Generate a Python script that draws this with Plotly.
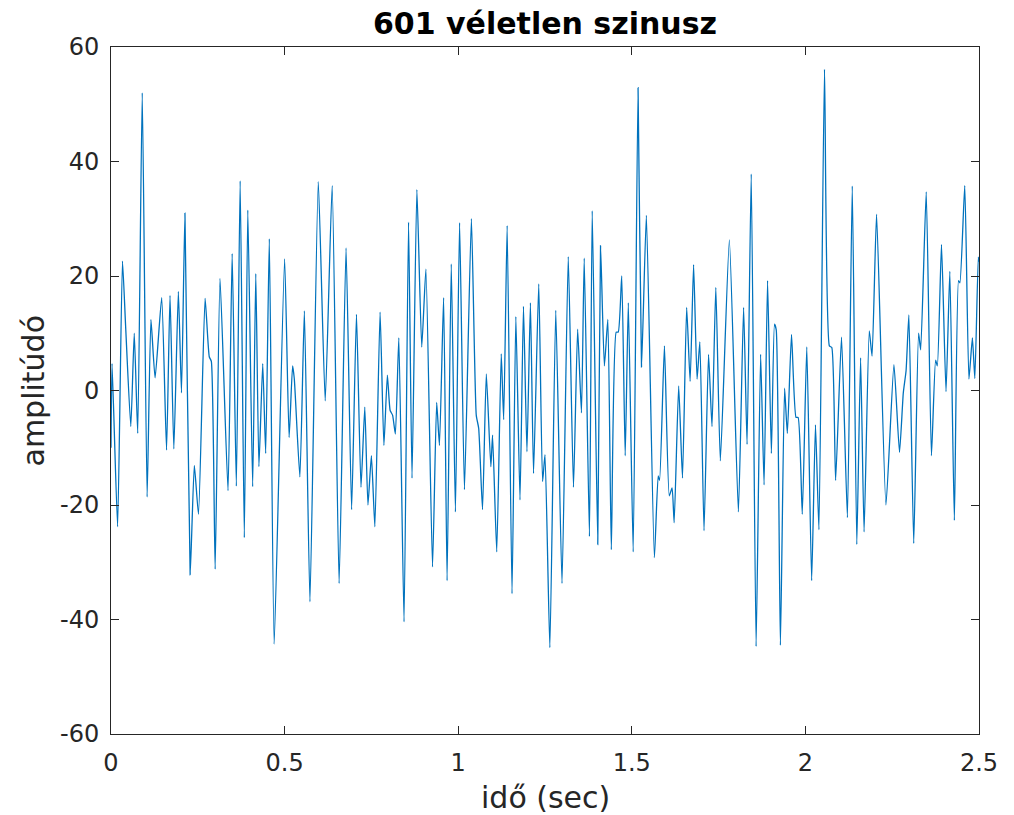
import plotly.graph_objects as go

# time (sec) and amplitude values (turning points of the signal)
t_sec = [
    0.000, 0.003, 0.019, 0.033, 0.042, 0.057, 0.067, 0.077, 0.090, 0.104,
    0.115, 0.127, 0.146, 0.160, 0.170, 0.181, 0.194, 0.203, 0.213, 0.228,
    0.240, 0.252, 0.271, 0.283, 0.289, 0.300, 0.314, 0.337, 0.349, 0.361,
    0.372, 0.384, 0.394, 0.408, 0.417, 0.426, 0.437, 0.4455, 0.456, 0.470,
    0.500, 0.513, 0.523, 0.528, 0.544, 0.557, 0.573, 0.597, 0.617, 0.637,
    0.657, 0.677, 0.693, 0.707, 0.720, 0.731, 0.740, 0.750, 0.760, 0.775,
    0.786, 0.796, 0.804, 0.811, 0.819, 0.829, 0.844, 0.857, 0.867, 0.881,
    0.895, 0.907, 0.926, 0.938, 0.946, 0.958, 0.968, 0.980, 0.992, 1.004,
    1.018, 1.038, 1.052, 1.059, 1.070, 1.081, 1.094, 1.099, 1.111, 1.124,
    1.131, 1.141, 1.155, 1.166, 1.178, 1.188, 1.198, 1.208, 1.217, 1.232,
    1.243, 1.250, 1.264, 1.281, 1.299, 1.317, 1.332, 1.344, 1.355, 1.363,
    1.378, 1.386, 1.402, 1.410, 1.421, 1.431, 1.441, 1.455, 1.461, 1.471,
    1.481, 1.490, 1.504, 1.518, 1.528, 1.542, 1.565, 1.576, 1.580, 1.594,
    1.608, 1.616, 1.622, 1.635, 1.646, 1.658, 1.668, 1.678, 1.688, 1.696,
    1.708, 1.721, 1.731, 1.742, 1.755, 1.781, 1.807, 1.822, 1.832, 1.844,
    1.858, 1.871, 1.881, 1.891, 1.902, 1.911, 1.916, 1.928, 1.940, 1.948,
    1.960, 1.973, 1.979, 1.991, 2.004, 2.018, 2.029, 2.039, 2.055, 2.069,
    2.076, 2.087, 2.104, 2.121, 2.135, 2.148, 2.159, 2.169, 2.184, 2.192,
    2.205, 2.232, 2.255, 2.271, 2.282, 2.290, 2.298, 2.312, 2.326, 2.332,
    2.348, 2.363, 2.375, 2.380, 2.392, 2.405, 2.416, 2.429, 2.441, 2.445,
    2.459, 2.471, 2.481, 2.488, 2.498, 2.500,
]
amplitude = [
    -10.0, 4.7, -23.8, 22.6, 11.4, -6.3, 10.0, -7.5, 52.0, -18.6,
    12.4, 2.2, 16.2, -10.4, 16.6, -10.2, 17.3, -0.4, 31.0, -32.2,
    -13.1, -21.6, 16.1, 5.9, 5.1, -31.2, 19.6, -17.5, 23.9, -16.7,
    36.6, -25.7, 31.5, -16.8, 20.4, -13.3, 4.7, -11.0, 26.5, -44.3,
    23.0, -8.2, 4.3, 2.0, -15.1, 13.9, -36.9, 36.5, -1.8, 35.8,
    -33.7, 24.9, -20.8, 13.3, -16.9, -2.9, -20.0, -11.4, -23.8, 13.7,
    -9.6, 2.7, -3.5, -4.3, -7.6, 9.2, -40.4, 29.4, -15.3, 35.1,
    7.6, 21.2, -30.8, -2.1, -9.6, 16.2, -33.2, 22.1, -21.2, 29.3,
    -17.3, 30.0, -4.3, -6.6, -20.8, 2.9, -13.3, -7.8, -28.2, 6.4,
    -5.1, 28.8, -35.5, 12.9, -19.1, 14.7, -10.7, 15.3, -14.5, 18.6,
    -15.9, -11.2, -44.9, 14.0, -33.7, 23.4, -16.9, 10.7, -3.9, 23.1,
    -25.5, 31.4, -26.9, 25.3, 4.3, 12.4, -27.8, 10.2, 10.2, 20.0,
    -11.4, 15.3, -28.2, 52.9, 4.1, 30.6, -29.2, -14.9, -15.7, 7.8,
    -18.4, -17.0, -23.1, 0.8, -15.3, 14.5, 1.6, 22.0, 2.0, 8.5,
    -24.5, 6.3, -6.3, 18.0, -12.3, 26.3, -21.2, 14.5, -9.4, 37.8,
    -44.7, 6.3, -16.5, 19.2, -11.0, 11.6, 10.6, -44.5, 0.4, -7.5,
    9.8, -4.7, -4.7, -21.6, 7.6, -33.2, -6.0, -24.3, 56.1, 7.8,
    7.5, -15.7, 9.3, -22.2, 35.7, -26.9, 5.7, -24.7, 10.4, 6.0,
    30.8, -20.0, 4.5, -10.8, -0.4, 3.5, 13.2, -26.7, 10.0, 7.1,
    34.7, -11.4, 5.3, 4.3, 25.5, -0.2, 20.8, -22.7, 19.2, 18.8,
    35.8, 2.0, 9.2, 2.1, 23.3, 22.5,
]

x_ticks = [0, 0.5, 1, 1.5, 2, 2.5]
x_tick_labels = ["0", "0.5", "1", "1.5", "2", "2.5"]
y_ticks = [-60, -40, -20, 0, 20, 40, 60]
y_tick_labels = ["-60", "-40", "-20", "0", "20", "40", "60"]

title_text = "601 véletlen szinusz"
x_label = "idő (sec)"
y_label = "amplitúdó"

axis_color = "#262626"
font_family = "DejaVu Sans"

fig = go.Figure()
fig.add_trace(go.Scatter(
    x=t_sec, y=amplitude, mode="lines",
    line=dict(color="#0072BD", width=1.3, shape="spline", smoothing=0.5),
    showlegend=False, hoverinfo="skip",
))

axis_common = dict(
    showline=True, linecolor=axis_color, linewidth=1, mirror="ticks",
    ticks="inside", ticklen=8, tickwidth=1, tickcolor=axis_color,
    showgrid=False, zeroline=False,
    tickfont=dict(family=font_family, size=24, color=axis_color),
)

fig.update_xaxes(
    range=[0, 2.5], tickmode="array", tickvals=x_ticks, ticktext=x_tick_labels,
    ticklabelstandoff=7, **axis_common,
)
fig.update_yaxes(
    range=[-60, 60], tickmode="array", tickvals=y_ticks, ticktext=y_tick_labels,
    ticklabelstandoff=6, **axis_common,
)

fig.update_layout(
    width=1014, height=815,
    margin=dict(l=111, r=35, t=47, b=81),
    paper_bgcolor="white", plot_bgcolor="white",
    font=dict(family=font_family, color=axis_color),
    title=dict(
        text="<b>" + title_text + "</b>",
        x=0.5, xref="paper", xanchor="center",
        y=1 - 23 / 815, yref="container", yanchor="middle",
        font=dict(family=font_family, size=30, color="#000000"),
    ),
    annotations=[
        dict(text=x_label, x=0.5, y=0, xref="paper", yref="paper",
             xanchor="center", yanchor="middle", yshift=-63, showarrow=False,
             font=dict(family=font_family, size=30, color=axis_color)),
        dict(text=y_label, x=0, y=0.5, xref="paper", yref="paper",
             xanchor="center", yanchor="middle", xshift=-78, textangle=-90,
             showarrow=False,
             font=dict(family=font_family, size=30, color=axis_color)),
    ],
)

fig.write_html("out.html")
